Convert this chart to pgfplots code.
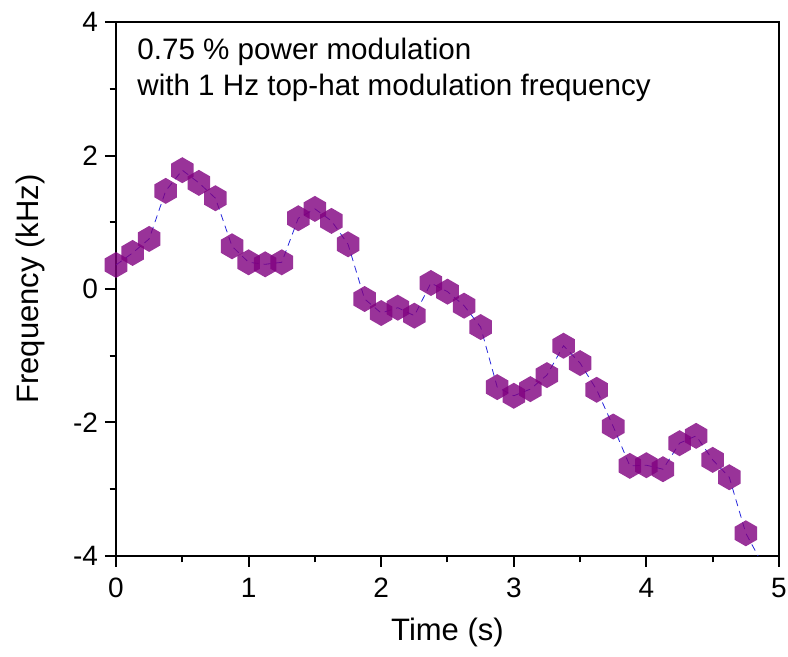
\documentclass[border=0pt]{standalone}
\usepackage{fontspec}
\setmainfont{Liberation Sans}
\usepackage{pgfplots}
\pgfplotsset{compat=1.18}
\definecolor{HexPurple}{RGB}{128,0,128}
\definecolor{LineBlue}{RGB}{40,40,220}

% pointy-top hexagon mark
\pgfdeclareplotmark{hexagon}{%
  \pgfpathmoveto{\pgfqpointpolar{90}{\pgfplotmarksize}}%
  \pgfpathlineto{\pgfqpointpolar{150}{\pgfplotmarksize}}%
  \pgfpathlineto{\pgfqpointpolar{210}{\pgfplotmarksize}}%
  \pgfpathlineto{\pgfqpointpolar{270}{\pgfplotmarksize}}%
  \pgfpathlineto{\pgfqpointpolar{330}{\pgfplotmarksize}}%
  \pgfpathlineto{\pgfqpointpolar{30}{\pgfplotmarksize}}%
  \pgfpathclose
  \pgfusepathqfill}

\begin{document}
\begin{tikzpicture}
\useasboundingbox (-58pt,-50.5pt) rectangle (336pt,278pt);
\begin{axis}[
    scale only axis,
    width=331.5pt,
    height=267pt,
    xmin=0, xmax=5,
    ymin=-4, ymax=4,
    xtick={0,1,2,3,4,5},
    ytick={-4,-2,0,2,4},
    minor xtick={0.5,1.5,2.5,3.5,4.5},
    minor ytick={-3,-1,1,3},
    tick align=outside,
    xtick pos=bottom,
    ytick pos=left,
    major tick length=5.5pt,
    minor tick length=3.2pt,
    every tick/.style={black, line width=1pt},
    axis line style={line width=1pt},
    /pgf/number format/assume math mode=true,
    ticklabel style={font=\fontsize{14}{16}\selectfont},
    xticklabel style={yshift=-2pt},
    xlabel={Time (s)},
    ylabel={Frequency (kHz)},
    every axis x label/.style={at={(axis description cs:0.5,0)}, yshift=-38pt,
        anchor=center, font=\fontsize{15.5}{18}\selectfont},
    every axis y label/.style={at={(axis description cs:0,0.5)}, xshift=-43pt,
        rotate=90, anchor=center, font=\fontsize{15.5}{18}\selectfont},
    clip=true,
]
\addplot[LineBlue, line width=0.4pt, dash pattern=on 3.5pt off 2.5pt,
    mark=hexagon, mark size=6.5pt,
    mark options={solid, draw=none, fill=HexPurple, fill opacity=0.8}]
  coordinates {
    (0.000, 0.36) (0.125, 0.54) (0.250, 0.75) (0.375, 1.47)
    (0.500, 1.78) (0.625, 1.59) (0.750, 1.36) (0.875, 0.64)
    (1.000, 0.40) (1.125, 0.37) (1.250, 0.40) (1.375, 1.06)
    (1.500, 1.20) (1.625, 1.02) (1.750, 0.67) (1.875, -0.15)
    (2.000, -0.36) (2.125, -0.28) (2.250, -0.40) (2.375, 0.09)
    (2.500, -0.04) (2.625, -0.25) (2.750, -0.57) (2.875, -1.47)
    (3.000, -1.60) (3.125, -1.50) (3.250, -1.29) (3.375, -0.85)
    (3.500, -1.11) (3.625, -1.51) (3.750, -2.06) (3.875, -2.65)
    (4.000, -2.64) (4.125, -2.70) (4.250, -2.31) (4.375, -2.20)
    (4.500, -2.56) (4.625, -2.82) (4.750, -3.66) (4.875, -4.12)
  };
\node[anchor=north west, align=left, inner sep=0pt,
      font=\fontsize{14.8}{18}\selectfont]
  at ([xshift=10.5pt, yshift=-8pt]axis description cs:0,1)
  {0.75 \% power modulation\\with 1 Hz top-hat modulation frequency};
\end{axis}
\end{tikzpicture}
\end{document}
